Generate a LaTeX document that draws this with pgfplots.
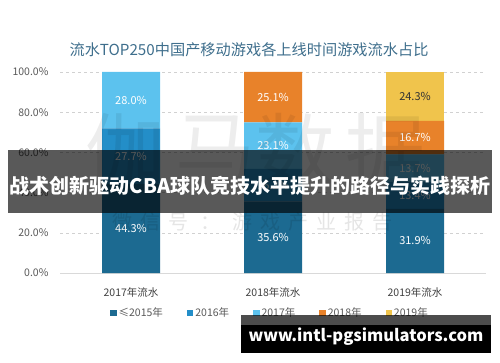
\documentclass[border=0pt]{standalone}
\usepackage{pgfplots}
\pgfplotsset{compat=1.18}
\usepackage{fontspec}
\setmainfont{Noto Sans CJK SC}
\definecolor{cA}{RGB}{28,106,145}
\definecolor{cB}{RGB}{35,142,200}
\definecolor{cC}{RGB}{92,194,238}
\definecolor{cD}{RGB}{232,130,42}
\definecolor{cE}{RGB}{240,196,76}
\definecolor{titlec}{RGB}{62,110,140}
\definecolor{tickc}{RGB}{89,89,89}
\definecolor{xtc}{RGB}{64,64,64}
\begin{document}
\begin{tikzpicture}
\path[use as bounding box] (0pt,0pt) rectangle (500pt,362pt);
\node[text=titlec, font=\fontsize{15.2}{18}\selectfont] at (249pt,312pt) {流水TOP250中国产移动游戏各上线时间游戏流水占比};
\begin{axis}[
  at={(60pt,89pt)}, anchor=south west,
  scale only axis, width=426pt, height=201pt,
  ybar stacked, bar width=58pt,
  xmin=-0.5, xmax=2.5, ymin=0, ymax=100,
  xtick={0,1,2}, xticklabels={2017年流水,2018年流水,2019年流水},
  ytick={0,20,...,100},
  yticklabel={\pgfmathprintnumber[fixed,fixed zerofill,precision=1]{\tick}\%},
  /pgf/number format/assume math mode=true,
  axis x line*=bottom, axis y line*=left,
  axis line style={-},
  x axis line style={draw=black!15},
  y axis line style={draw=none},
  major tick length=0pt,
  ymajorgrids, grid style={dashed, draw=black!18},
  yticklabel style={font=\fontsize{10.5}{12}\selectfont, text=tickc, xshift=-8pt},
  xticklabel style={font=\fontsize{10.5}{12}\selectfont, text=xtc, yshift=-11pt},
  point meta=explicit symbolic,
  nodes near coords,
  every node near coord/.append style={anchor=center, font=\fontsize{11}{12}\selectfont, text=white},
  legend style={at={(0.493,-0.199)}, anchor=center, draw=none, fill=none, font=\fontsize{10.5}{12}\selectfont, text=tickc, legend columns=5, /tikz/every even column/.append style={column sep=22pt}},
  legend image code/.code={\fill[#1] (0pt,-3.2pt) rectangle (6.4pt,3.2pt);},
]
\addplot[fill=cA, draw=none] coordinates {(0,44.3) [44.3\%] (1,35.6) [35.6\%] (2,31.9) [31.9\%]};
\addplot[fill=cB, draw=none] coordinates {(0,27.7) [27.7\%] (1,16.2) [16.2\%] (2,13.4) [13.4\%]};
\addplot[fill=cC, draw=none] coordinates {(0,28.0) [28.0\%] (1,23.1) [23.1\%] (2,13.7) [13.7\%]};
\addplot[fill=cD, draw=none] coordinates {(0,0) [] (1,25.1) [25.1\%] (2,16.7) [16.7\%]};
\addplot[fill=cE, draw=none, every node near coord/.append style={text=black!80}] coordinates {(0,0) [] (1,0) [] (2,24.3) [24.3\%]};
\legend{≤2015年,2016年,2017年,2018年,2019年}
\end{axis}
% faint watermark
\begin{scope}[opacity=0.07, font=\fontsize{80}{80}\selectfont]
\node at (125pt,212pt) {伽};
\node at (215pt,212pt) {马};
\node at (295pt,212pt) {数};
\node at (385pt,212pt) {据};
\end{scope}
\node[opacity=0.1, font=\fontsize{20}{22}\selectfont] at (252pt,140pt) {微\hspace{8pt}信\hspace{8pt}号\hspace{12pt}：\hspace{12pt}游\hspace{8pt}戏\hspace{8pt}产\hspace{8pt}业\hspace{8pt}报\hspace{8pt}告};
% overlay band
\fill[black, opacity=0.65] (8pt,149pt) rectangle (492pt,212pt);
\node[text=white, font=\fontsize{20}{24}\selectfont\bfseries] at (250pt,176pt) {战术创新驱动CBA球队竞技水平提升的路径与实践探析};
% bottom right box
\fill[black, opacity=0.7] (241pt,37pt) rectangle (491pt,47pt);
\fill[black] (241pt,9pt) rectangle (491pt,37pt);
\node[text=white, font=\fontsize{16.5}{18}\selectfont\bfseries] at (366pt,25pt) {www.intl-pgsimulators.com};
\end{tikzpicture}
\end{document}
